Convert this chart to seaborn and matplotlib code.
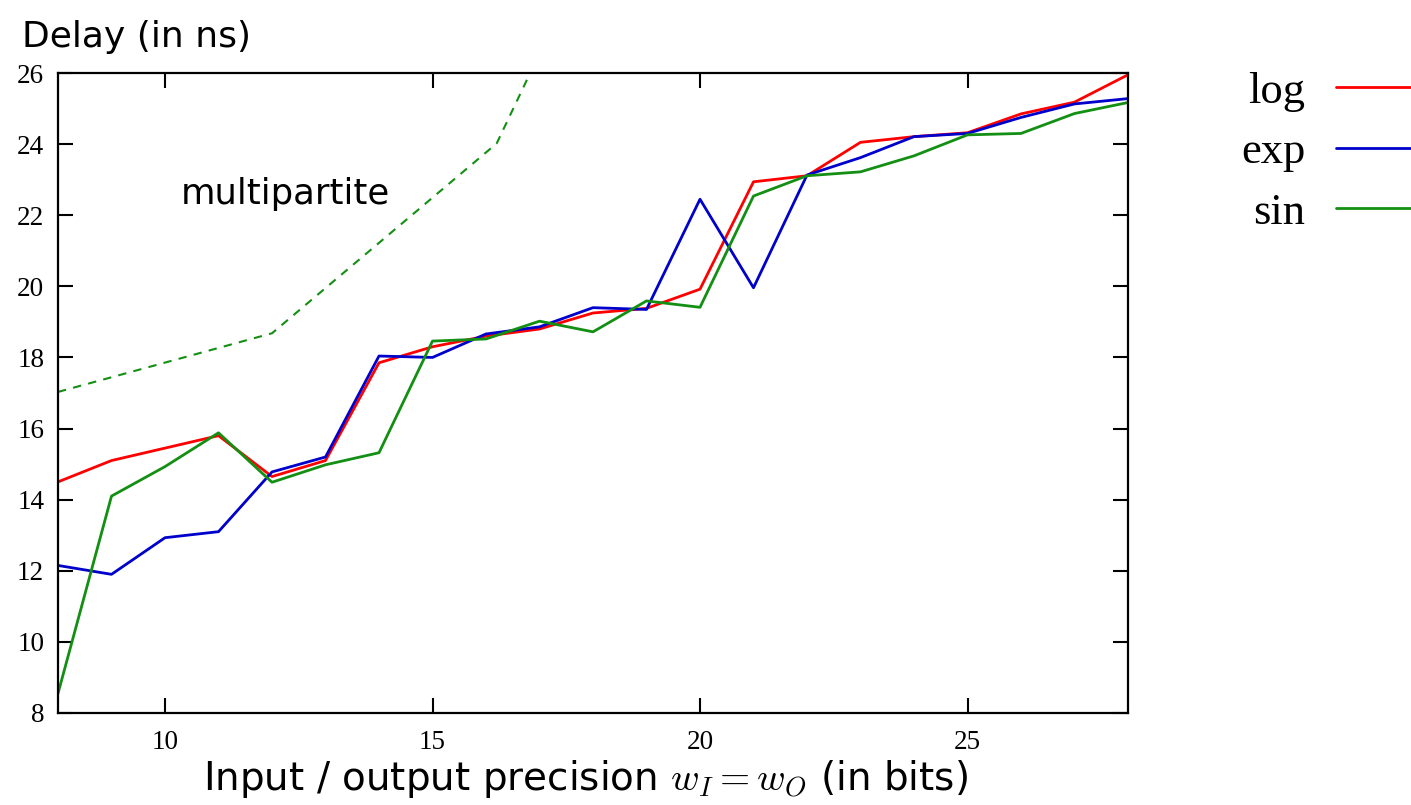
import matplotlib
matplotlib.use("Agg")
import matplotlib.pyplot as plt
import seaborn as sns
import pandas as pd

# precision in bits
bits = list(range(8, 29))

# delay in ns for each function
delay_log = [14.5, 15.1, 15.45, 15.8, 14.65, 15.1, 17.85, 18.3, 18.6, 18.8, 19.25, 19.38,
             19.92, 22.94, 23.11, 24.05, 24.21, 24.32, 24.85, 25.18, 25.95]
delay_exp = [12.15, 11.9, 12.93, 13.1, 14.78, 15.2, 18.04, 18.0, 18.66, 18.86, 19.4, 19.35,
             22.45, 19.96, 23.13, 23.62, 24.21, 24.3, 24.75, 25.13, 25.28]
delay_sin = [8.55, 14.1, 14.93, 15.88, 14.49, 14.98, 15.32, 18.46, 18.52, 19.02, 18.72, 19.59,
             19.41, 22.54, 23.11, 23.22, 23.67, 24.26, 24.3, 24.86, 25.17]

# multipartite reference (dashed)
multi_bits = [8, 12, 16.2, 17]
multi_delay = [17.03, 18.68, 24.02, 26.55]

series_names = ["log", "exp", "sin"]
colors = {"log": "#ff0000", "exp": "#0000cc", "sin": "#138f13"}

df = pd.DataFrame({
    "bits": bits * 3,
    "delay": delay_log + delay_exp + delay_sin,
    "func": ["log"] * len(bits) + ["exp"] * len(bits) + ["sin"] * len(bits),
})
df_multi = pd.DataFrame({"bits": multi_bits, "delay": multi_delay})

sns.set_theme(style="ticks")
plt.rcParams["font.family"] = ["DejaVu Sans"]
plt.rcParams["mathtext.fontset"] = "cm"
plt.rcParams["text.color"] = "black"
plt.rcParams["axes.labelcolor"] = "black"
plt.rcParams["xtick.color"] = "black"
plt.rcParams["ytick.color"] = "black"

fig = plt.figure(figsize=(14.11, 8.05), dpi=100)
ax = fig.add_axes([58 / 1411, 1 - 713 / 805, 1070 / 1411, 640 / 805])

sns.lineplot(data=df, x="bits", y="delay", hue="func", hue_order=series_names,
             palette=colors, linewidth=2, ax=ax)
sns.lineplot(data=df_multi, x="bits", y="delay", color=colors["sin"], linewidth=1.5,
             linestyle=(0, (4, 3.5)), ax=ax, legend=False)

ax.set_xlim(8, 28)
ax.set_ylim(8, 26)
ax.set_xticks([10, 15, 20, 25])
ax.set_yticks(range(8, 27, 2))
ax.tick_params(direction="in", length=11, width=1.5, top=True, right=True, colors="black")
ax.tick_params(axis="y", pad=10)
ax.tick_params(axis="x", pad=12)
plt.setp(ax.get_xticklabels() + ax.get_yticklabels(),
         fontfamily="Liberation Serif", fontsize=19.5)
for sp in ax.spines.values():
    sp.set_visible(True)
    sp.set_linewidth(1.6)
    sp.set_color("black")

ax.set_xlabel(r"Input / output precision $w_I = w_O$ (in bits)", fontsize=28)
ax.xaxis.set_label_coords(0.4925, -0.07)
ax.set_ylabel("")
ax.text(-0.034, 1.03, "Delay (in ns)", transform=ax.transAxes, fontsize=26,
        ha="left", va="bottom")
ax.text(10.3, 22.6, "multipartite", fontsize=25.5, ha="left", va="center")

leg = ax.legend(loc="upper left", bbox_to_anchor=(1.068, 1.065), frameon=False,
                markerfirst=False, fontsize=32, handlelength=2.3, handletextpad=0.7,
                labelspacing=0.46)
for t in leg.get_texts():
    t.set_fontfamily("Liberation Serif")

fig.savefig("out.png", dpi=100)
